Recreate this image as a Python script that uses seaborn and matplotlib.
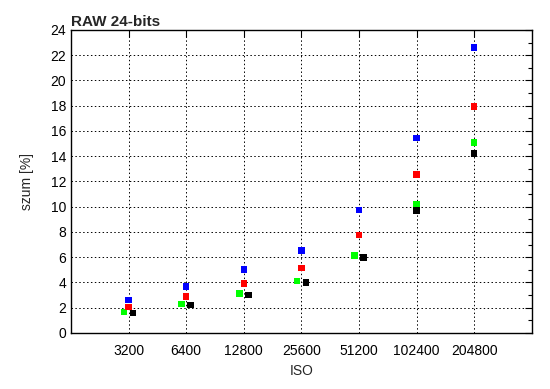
import pandas as pd
import matplotlib
matplotlib.use('Agg')
import matplotlib.pyplot as plt
import matplotlib.ticker as mticker
import seaborn as sns

# Values (noise in % per ISO setting)
iso_ticks = [3200, 6400, 12800, 25600, 51200, 102400, 204800]

green_iso = [3030, 6060, 12120, 24240, 48480, 102400, 204800]
green_val = [1.65, 2.3, 3.12, 4.1, 6.15, 10.2, 15.1]

red_iso = [3200, 6400, 12800, 25600, 51200, 102400, 204800]
red_val = [2.05, 2.9, 3.9, 5.15, 7.76, 12.55, 17.95]

blue_iso = [3200, 6400, 12800, 25600, 51200, 102400, 204800]
blue_val = [2.6, 3.67, 5.04, 6.52, 9.74, 15.45, 22.6]

black_iso = [3380, 6760, 13520, 27040, 54080, 102400, 204800]
black_val = [1.6, 2.22, 3.02, 3.98, 5.97, 9.7, 14.2]

frames = []
for name, xs, ys in [('green', green_iso, green_val), ('red', red_iso, red_val),
                     ('blue', blue_iso, blue_val), ('black', black_iso, black_val)]:
    frames.append(pd.DataFrame({'ISO': xs, 'szum': ys, 'seria': name}))
df = pd.concat(frames, ignore_index=True)

palette = {'green': '#00ff00', 'red': '#ff0000', 'blue': '#0000ff', 'black': '#000000'}

sns.set_style('white')
plt.rcParams['font.family'] = ['Liberation Sans', 'DejaVu Sans']

fig = plt.figure(figsize=(5.5, 3.89), dpi=100)
ax = fig.add_axes([0.129, 0.144, 0.838, 0.779])

sns.scatterplot(data=df, x='ISO', y='szum', hue='seria', palette=palette,
                marker='s', s=22, linewidth=0, legend=False, ax=ax, zorder=3)

ax.set_xscale('log', base=2)
ax.set_xlim(1600, 409600)
ax.set_ylim(0, 24)
ax.set_xticks(iso_ticks)
ax.set_xticklabels([str(v) for v in iso_ticks])
ax.xaxis.set_minor_locator(mticker.NullLocator())
ax.set_yticks(range(0, 25, 2))
ax.yaxis.set_minor_locator(mticker.MultipleLocator(1))

ax.tick_params(which='both', direction='in', top=True, right=True,
               labelsize=10, colors='black')
ax.tick_params(which='major', length=5, width=0.8)
ax.tick_params(which='minor', length=3, width=0.8)
ax.tick_params(axis='x', pad=8)

ax.grid(True, which='major', color='black', linestyle=(0, (1.5, 2.5)), linewidth=0.7)
for sp in ax.spines.values():
    sp.set_color('black')
    sp.set_linewidth(1.0)

ax.set_xlabel('ISO', fontsize=10)
ax.set_ylabel('szum [%]', fontsize=10, labelpad=12)
ax.set_title('RAW 24-bits', fontsize=11, fontweight='bold', loc='left', pad=3)

fig.savefig('out.png', dpi=100)
